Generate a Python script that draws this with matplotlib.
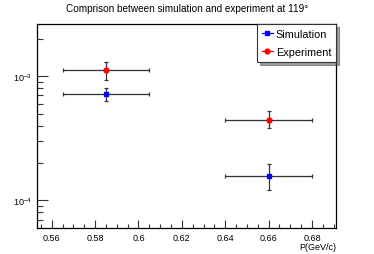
import matplotlib
matplotlib.use("Agg")
from matplotlib import pyplot as plt
from matplotlib.ticker import LogLocator, MultipleLocator, NullFormatter, FixedLocator
from matplotlib.lines import Line2D

# ROOT 风格的对比图：模拟 vs 实验

plt.rcParams['font.family'] = ['Liberation Sans', 'DejaVu Sans']
plt.rcParams['mathtext.fontset'] = 'custom'
plt.rcParams['mathtext.rm'] = 'Liberation Sans'

p = [0.585, 0.66]
p_err = [0.02, 0.02]

sim = [7.15e-4, 1.58e-4]
sim_lo = [0.85e-4, 0.36e-4]
sim_hi = [0.85e-4, 0.38e-4]

exp_ = [1.12e-3, 4.48e-4]
exp_lo = [1.9e-4, 0.63e-4]
exp_hi = [1.9e-4, 0.74e-4]

fig = plt.figure(figsize=(3.74, 2.55), dpi=100)
ax = fig.add_axes([0.099, 0.102, 0.800, 0.800])

ax.errorbar(p, sim, xerr=p_err, yerr=[sim_lo, sim_hi], fmt='s', color='blue',
            ms=3.5, ecolor='#333333', elinewidth=0.9, capsize=1.2, capthick=0.9, zorder=3)
ax.errorbar(p, exp_, xerr=p_err, yerr=[exp_lo, exp_hi], fmt='o', color='red',
            ms=3.5, ecolor='#333333', elinewidth=0.9, capsize=1.2, capthick=0.9, zorder=3)

ax.set_yscale('log')
ax.set_xlim(0.5532, 0.6912)
ax.set_ylim(6.0e-5, 2.63e-3)

ax.xaxis.set_major_locator(MultipleLocator(0.02))
ax.xaxis.set_minor_locator(MultipleLocator(0.005))
ax.xaxis.set_major_formatter(matplotlib.ticker.FuncFormatter(lambda v, _: ('%.2f' % v).rstrip('0')))
ax.yaxis.set_major_locator(FixedLocator([1e-4, 1e-3]))
ax.yaxis.set_minor_locator(LogLocator(base=10, subs=range(2, 10)))
ax.yaxis.set_minor_formatter(NullFormatter())

ax.tick_params(axis='both', which='both', direction='in', top=False, right=False,
               labelsize=6.5, width=0.8, color='#333333')
ax.tick_params(axis='y', which='major', length=8)
ax.tick_params(axis='y', which='minor', length=4.5)
ax.tick_params(axis='x', which='major', length=5.5)
ax.tick_params(axis='x', which='minor', length=3)
for s in ax.spines.values():
    s.set_linewidth(0.9)

ax.set_xlabel('P(GeV/c)', loc='right', fontsize=6.5, labelpad=0)
fig.suptitle('Comprison between simulation and experiment at 119°', fontsize=7.2, y=0.985)

handles = [Line2D([], [], color='blue', marker='s', ms=3.5, lw=0.9),
           Line2D([], [], color='red', marker='o', ms=3.5, lw=0.9)]
leg = ax.legend(handles, ['Simulation', 'Experiment'], loc='upper right', fontsize=7.8,
                fancybox=False, shadow={'color': '#444444'}, framealpha=1, edgecolor='#333333',
                borderaxespad=0, handlelength=1.0, handletextpad=0.3,
                labelspacing=0.75, borderpad=0.45)
leg.get_frame().set_linewidth(0.8)

plt.savefig('out.png', dpi=100)
